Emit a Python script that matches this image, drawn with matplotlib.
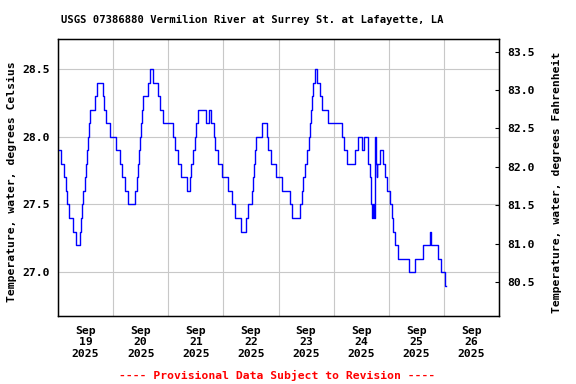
import pandas as pd
import numpy as np
import matplotlib
matplotlib.use("Agg")
import matplotlib.pyplot as plt
import matplotlib.dates as mdates

# hours after 2025-09-19 00:00 where the reading changes, and the reading (deg C)
hours = [0.0, 1.3, 2.4, 3.3, 3.9, 4.6, 6.4, 7.7, 9.4, 9.8, 10.5, 11.0, 11.6, 12.2,
         12.7, 13.1, 13.4, 13.8, 16.3, 16.9, 19.4, 20.2, 21.0, 22.6, 25.1, 26.9,
         27.9, 29.3, 30.3, 33.5, 34.2, 34.8, 35.4, 35.9, 36.3, 36.7, 37.2, 37.9,
         39.0, 40.2, 41.3, 43.6, 44.3, 45.5,
         49.9, 51.0, 52.3, 53.6, 56.0, 57.4, 58.0, 58.8, 59.6, 60.1, 61.0, 64.4,
         65.6, 66.6, 67.8, 68.5, 69.6, 71.3, 73.8, 75.6, 77.0, 79.5, 81.8, 82.8,
         84.4, 84.8, 85.2, 85.7, 86.1, 88.6, 90.8, 91.4, 92.6, 94.8,
         97.4, 100.8, 101.7, 105.5, 106.2, 106.8, 107.5, 108.4, 109.3, 109.8,
         110.2, 110.6, 111.2, 112.0, 112.6, 114.2, 115.0, 117.5, 123.7, 124.5,
         126.0, 129.5, 130.4, 132.4, 133.4, 135.1, 135.9, 136.4, 136.9, 137.3,
         137.6, 137.9, 138.3, 138.7, 139.1, 140.2, 141.6, 142.4, 143.1, 144.7,
         145.3, 146.0, 146.8, 148.0, 152.8, 155.6, 158.7, 161.8, 162.3, 165.6,
         166.8, 168.6, 169.1]
temp_c = [27.9, 27.8, 27.7, 27.6, 27.5, 27.4, 27.3, 27.2, 27.3, 27.4, 27.5, 27.6, 27.7, 27.8,
          27.9, 28.0, 28.1, 28.2, 28.3, 28.4, 28.3, 28.2, 28.1, 28.0, 27.9, 27.8,
          27.7, 27.6, 27.5, 27.6, 27.7, 27.8, 27.9, 28.0, 28.1, 28.2, 28.3, 28.3,
          28.4, 28.5, 28.4, 28.3, 28.2, 28.1,
          28.0, 27.9, 27.8, 27.7, 27.6, 27.7, 27.8, 27.9, 28.0, 28.1, 28.2, 28.1,
          28.2, 28.1, 28.0, 27.9, 27.8, 27.7, 27.6, 27.5, 27.4, 27.3, 27.4, 27.5,
          27.6, 27.7, 27.8, 27.9, 28.0, 28.1, 28.0, 27.9, 27.8, 27.7,
          27.6, 27.5, 27.4, 27.5, 27.6, 27.7, 27.8, 27.9, 28.0, 28.1,
          28.2, 28.3, 28.4, 28.5, 28.4, 28.3, 28.2, 28.1, 28.0, 27.9,
          27.8, 27.9, 28.0, 27.9, 28.0, 27.8, 27.7, 27.5, 27.4, 27.5,
          27.4, 28.0, 27.8, 27.7, 27.8, 27.9, 27.8, 27.7, 27.6, 27.5,
          27.4, 27.3, 27.2, 27.1, 27.0, 27.1, 27.2, 27.3, 27.2, 27.1,
          27.0, 26.9, 26.9]

c_ticks = [27.0, 27.5, 28.0, 28.5]
f_ticks = [80.5, 81.0, 81.5, 82.0, 82.5, 83.0, 83.5]

start = pd.Timestamp("2025-09-19")
times = start + pd.to_timedelta(hours, unit="h")

font = "DejaVu Sans Mono"
fs = 8.2

fig = plt.figure(figsize=(5.76, 3.84), dpi=100)
ax = fig.add_axes([58 / 576, 68 / 384, 441 / 576, 276.7 / 384])
ax.step(times, temp_c, where="post", color="blue", lw=1.0, zorder=3)

ax.set_xlim(start, start + pd.Timedelta(days=8))
ax.set_ylim(26.676, 28.72)
ax.set_yticks(c_ticks)
ax.set_yticklabels([f"{v:.1f}" for v in c_ticks], fontfamily=font, fontweight="bold", fontsize=fs)
ax.tick_params(axis="y", length=0, pad=6)

ax.xaxis.set_major_locator(mdates.DayLocator())
ax.xaxis.set_major_formatter(plt.NullFormatter())
ax.xaxis.set_minor_locator(mdates.HourLocator(byhour=12))
ax.xaxis.set_minor_formatter(mdates.DateFormatter("%b\n%d\n%Y"))
ax.tick_params(axis="x", which="both", length=0)
ax.tick_params(axis="x", which="minor", pad=7)
for lab in ax.xaxis.get_minorticklabels():
    lab.set_fontfamily(font)
    lab.set_fontweight("bold")
    lab.set_fontsize(fs)

ax.grid(True, which="major", color="#c8c8c8", lw=0.8)
ax.set_axisbelow(True)
for s in ax.spines.values():
    s.set_linewidth(1.0)

ax2 = ax.twinx()
ax2.set_ylim(80.06, 83.66)
ax2.set_yticks(f_ticks)
ax2.set_yticklabels([f"{v:.1f}" for v in f_ticks], fontfamily=font, fontweight="bold", fontsize=fs)
ax2.tick_params(axis="y", direction="in", length=3, pad=6)

fig.text(252.5 / 576, 1 - 20 / 384, "USGS 07386880 Vermilion River at Surrey St. at Lafayette, LA",
         ha="center", va="center", fontfamily=font, fontweight="bold", fontsize=7.6)
fig.text(11.5 / 576, 1 - 182 / 384, "Temperature, water, degrees Celsius", rotation=90,
         ha="center", va="center", fontfamily=font, fontweight="bold", fontsize=fs)
fig.text(556.5 / 576, 1 - 182.5 / 384, "Temperature, water, degrees Fahrenheit", rotation=90,
         ha="center", va="center", fontfamily=font, fontweight="bold", fontsize=fs)
fig.text(277 / 576, 1 - 375 / 384, "---- Provisional Data Subject to Revision ----",
         ha="center", va="center", color="red", fontfamily=font, fontweight="bold", fontsize=fs)

fig.savefig("out.png", dpi=100)
